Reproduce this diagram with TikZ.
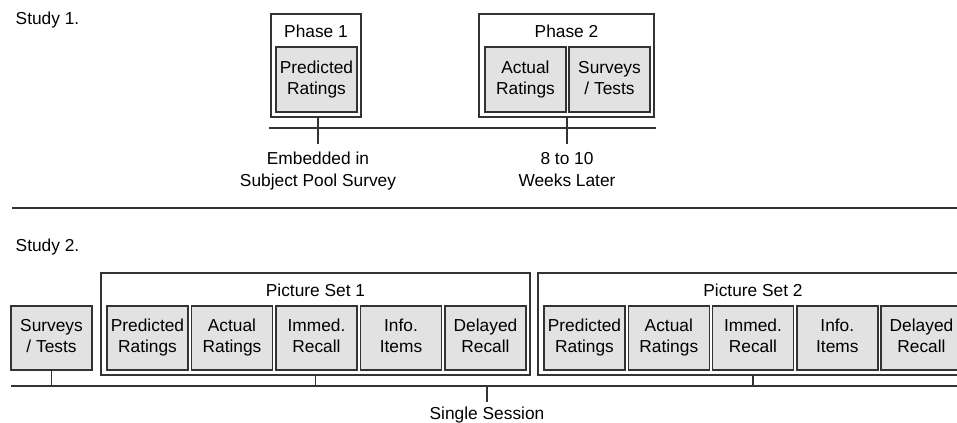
\documentclass[tikz,border=0pt]{standalone}
\usepackage{fontspec}
\setmainfont{Liberation Sans}
\definecolor{linec}{HTML}{333333}
\definecolor{boxfill}{HTML}{E2E2E2}
\newcommand{\twol}[2]{\strut #1\\\strut #2}
\begin{document}
\begin{tikzpicture}[x=0.75pt,y=-0.75pt,
  every node/.style={font=\fontsize{13}{16}\selectfont, text=black},
  graybox/.style={draw=linec, fill=boxfill, line width=1.1pt, minimum width=60.75pt,
    inner sep=0pt, outer sep=0pt, align=center},
  outerbox/.style={draw=linec, line width=1.1pt, inner sep=0pt, outer sep=0pt},
  tl/.style={draw=linec, line width=1.1pt},
  lbl/.style={align=center, font=\fontsize{13}{17}\selectfont}]
\clip (0,0) rectangle (957,423);
% ---------- Study 1 ----------
\node[anchor=base west] (s1) at (11,25) {Study 1.};
\node[outerbox, minimum width=67.5pt, minimum height=77.25pt] (ph1) at (316,65.5) {};
\node[anchor=base] (ph1t) at (316,38) {Phase 1};
\node[graybox, minimum height=48.75pt] (p1pred) at (316.5,79.5) {\twol{Predicted}{Ratings}};
\node[outerbox, minimum width=131.25pt, minimum height=77.25pt] (ph2) at (566.5,65.5) {};
\node[anchor=base] (ph2t) at (566.5,38) {Phase 2};
\node[graybox, minimum height=48.75pt] (p2act) at (525.5,79.5) {\twol{Actual}{Ratings}};
\node[graybox, minimum height=48.75pt] (p2sur) at (609.5,79.5) {\twol{Surveys}{/ Tests}};
\coordinate (l1a) at (269,128);
\coordinate (l1b) at (656,128);
\draw[tl] (l1a) -- (l1b);
\coordinate (t1e) at (318,144);
\coordinate (t2e) at (567,144);
\draw[tl] (ph1.south -| t1e) -- (t1e);
\draw[tl] (ph2.south -| t2e) -- (t2e);
\node[lbl] (emb) at (318,171) {\twol{Embedded in}{Subject Pool Survey}};
\node[lbl] (wks) at (567,171) {\twol{8 to 10}{Weeks Later}};
% separator
\coordinate (sepa) at (12,208);
\coordinate (sepb) at (957,208);
\draw[tl] (sepa) -- (sepb);
% ---------- Study 2 ----------
\node[anchor=base west] (s2) at (11,252) {Study 2.};
\node[outerbox, minimum width=321.75pt, minimum height=76.5pt] (ps1) at (315.5,324) {};
\node[anchor=base] (ps1t) at (315.5,296.5) {Picture Set 1};
\node[outerbox, minimum width=322.5pt, minimum height=76.5pt] (ps2) at (753,324) {};
\node[anchor=base] (ps2t) at (753,296.5) {Picture Set 2};
\tikzset{g2/.style={graybox, minimum height=48pt}}
\node[g2] (sur) at (51.5,338) {\twol{Surveys}{/ Tests}};
\node[g2] (a1) at (147.5,338) {\twol{Predicted}{Ratings}};
\node[g2] (a2) at (232,338) {\twol{Actual}{Ratings}};
\node[g2] (a3) at (316.5,338) {\twol{Immed.}{Recall}};
\node[g2] (a4) at (401,338) {\twol{Info.}{Items}};
\node[g2] (a5) at (485.5,338) {\twol{Delayed}{Recall}};
\node[g2] (b1) at (584.5,338) {\twol{Predicted}{Ratings}};
\node[g2] (b2) at (668.8,338) {\twol{Actual}{Ratings}};
\node[g2] (b3) at (753,338) {\twol{Immed.}{Recall}};
\node[g2] (b4) at (837.3,338) {\twol{Info.}{Items}};
\node[g2] (b5) at (921.5,338) {\twol{Delayed}{Recall}};
\coordinate (l2a) at (11,386);
\coordinate (l2b) at (957,386);
\draw[tl] (l2a) -- (l2b);
\draw[tl] (sur.south) -- (sur.south |- l2a);
\draw[tl] (ps1.south) -- (ps1.south |- l2a);
\draw[tl] (ps2.south) -- (ps2.south |- l2a);
\coordinate (sst) at (487,386);
\coordinate (sse) at (487,402);
\draw[tl] (sst) -- (sse);
\node[anchor=base] (ss) at (487,420) {Single Session};
\end{tikzpicture}
\end{document}
